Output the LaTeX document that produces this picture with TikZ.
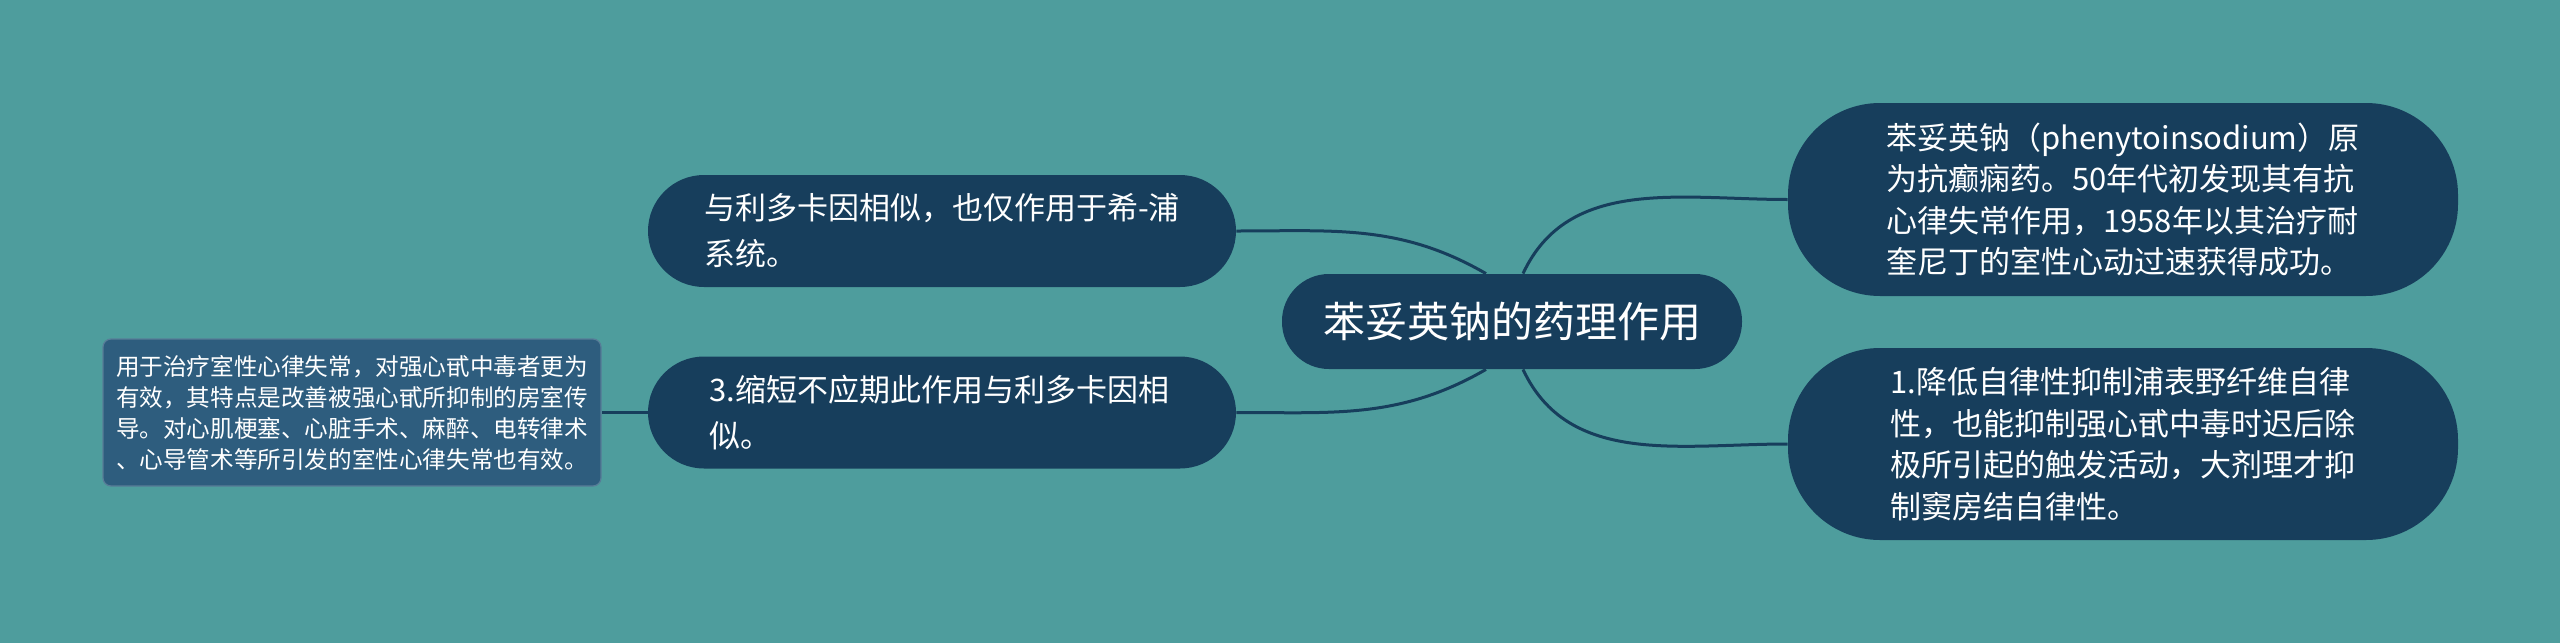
\documentclass[tikz,border=0pt]{standalone}
\usepackage{fontspec}
\setmainfont{Noto Sans CJK SC}
\definecolor{bgteal}{HTML}{4E9D9D}
\definecolor{navy}{HTML}{173E5C}
\definecolor{leafblue}{HTML}{2E5D7E}
\begin{document}
\begin{tikzpicture}[x=0.5pt,y=-0.5pt]
      \tikzset{topic/.style={draw=none, fill=navy, text=white, align=left, inner sep=0pt},
               leaf/.style={draw=leafblue!80!white, line width=0.6pt, fill=leafblue, text=white, align=left, inner sep=0pt, rounded corners=4pt},
               link/.style={draw=navy, line width=1.5pt}}
%% background
	\fill[bgteal] (0,0) rectangle (2560,643);
%% Nodes
	%midten
	\node[topic, rounded corners=23.5pt, minimum width=230pt, minimum height=47.5pt, font=\fontsize{21}{25}\selectfont] (root) at (1512,321.5) {苯妥英钠的药理作用};
	%hoejre
	\node[topic, rounded corners=46pt, minimum width=335pt, minimum height=96.5pt, font=\fontsize{15.5}{20.8}\selectfont] (r1) at (2123,199.5)
		{苯妥英钠（phenytoinsodium）原\\为抗癫痫药。50年代初发现其有抗\\心律失常作用，1958年以其治疗耐\\奎尼丁的室性心动过速获得成功。};
	\node[topic, rounded corners=46pt, minimum width=335pt, minimum height=96pt, font=\fontsize{15.5}{20.8}\selectfont] (r2) at (2123,444)
		{1.降低自律性抑制浦表野纤维自律\\性，也能抑制强心甙中毒时迟后除\\极所引起的触发活动，大剂理才抑\\制窦房结自律性。};
	%venstre
	\node[topic, rounded corners=28pt, minimum width=294pt, minimum height=56pt, font=\fontsize{15.5}{23}\selectfont] (l1) at (942,231)
		{与利多卡因相似，也仅作用于希-浦\\系统。\hspace*{12em}};
	\node[topic, rounded corners=28pt, minimum width=294pt, minimum height=56pt, font=\fontsize{15.5}{23}\selectfont] (l2) at (942,412.5)
		{3.缩短不应期此作用与利多卡因相\\似。\hspace*{13em}};
	\node[leaf, minimum width=249pt, minimum height=73.5pt, font=\fontsize{11.8}{15.5}\selectfont] (f1) at (352,412.5)
		{用于治疗室性心律失常，对强心甙中毒者更为\\有效，其特点是改善被强心甙所抑制的房室传\\导。对心肌梗塞、心脏手术、麻醉、电转律术\\、心导管术等所引发的室性心律失常也有效。};
%% Edges
	\path [link] ([xshift=5.5pt]root.north) edge[out=65, in=180] (r1.west);
	\path [link] ([xshift=5.5pt]root.south) edge[out=-65, in=180] (r2.west);
	\path [link] ([xshift=-13pt]root.north) edge[out=150, in=0] (l1.east);
	\path [link] ([xshift=-13pt]root.south) edge[out=-150, in=0] (l2.east);
	\path [link] (l2.west) edge (f1.east);
\end{tikzpicture}
\end{document}
